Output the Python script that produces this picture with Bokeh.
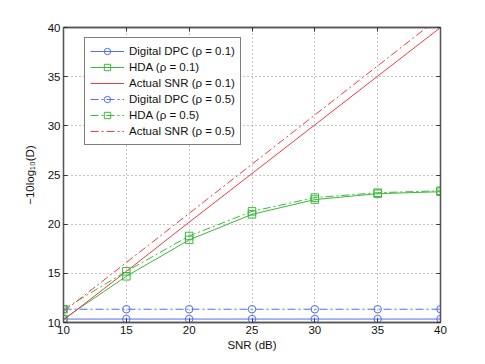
from bokeh.plotting import figure
from bokeh.models import LinearAxis, Range1d, FixedTicker, CustomJSTickFormatter
from bokeh.embed import file_html
from bokeh.resources import INLINE

# ---- data ----
snr = [10, 15, 20, 25, 30, 35, 40]
dpc_01 = [10.35, 10.35, 10.35, 10.35, 10.35, 10.35, 10.35]
hda_01 = [10.35, 14.7, 18.4, 21.0, 22.5, 23.1, 23.3]
act_01 = [10.25, 15.2, 20.2, 25.15, 30.1, 35.05, 40.0]
dpc_05 = [11.35, 11.35, 11.35, 11.35, 11.35, 11.35, 11.35]
hda_05 = [11.35, 15.2, 18.8, 21.3, 22.7, 23.2, 23.4]
act_05 = [11.1, 16.1, 21.1, 26.1, 31.1, 36.1, 41.1]
ticks = [10, 15, 20, 25, 30, 35, 40]

BLUE = "#4f6ef5"
GREEN = "#3cb83c"
RED = "#f23c3c"
FONT = "Liberation Sans"
DASHDOT = "8 3 2 3"

p = figure(width=477, height=356, output_backend="svg", toolbar_location=None,
           x_range=Range1d(10, 40), y_range=Range1d(10, 40),
           min_border_left=63, min_border_right=37, min_border_top=27, min_border_bottom=34)
p.background_fill_color = "white"
p.border_fill_color = "white"
p.outline_line_color = "#555555"
p.outline_line_width = 1.3

series = [
    (dpc_01, BLUE, "solid", "circle", "Digital DPC (ρ = 0.1)"),
    (hda_01, GREEN, "solid", "square", "HDA (ρ = 0.1)"),
    (act_01, RED, "solid", None, "Actual SNR (ρ = 0.1)"),
    (dpc_05, BLUE, DASHDOT, "circle", "Digital DPC (ρ = 0.5)"),
    (hda_05, GREEN, DASHDOT, "square", "HDA (ρ = 0.5)"),
    (act_05, RED, DASHDOT, None, "Actual SNR (ρ = 0.5)"),
]
for ys, col, dash, marker, lab in series:
    p.line(snr, ys, line_color=col, line_width=1, line_dash=dash, legend_label=lab)
    if marker:
        p.scatter(snr, ys, marker=marker, size=7.5, line_color=col, line_width=1,
                  fill_alpha=0, legend_label=lab)

for ax in p.axis:
    ax.ticker = FixedTicker(ticks=ticks)
    ax.major_tick_in = 4
    ax.major_tick_out = 0
    ax.minor_tick_in = 0
    ax.minor_tick_out = 0
    ax.axis_line_color = "#555555"
    ax.axis_line_width = 1.3
    ax.major_tick_line_color = "#333333"
    ax.major_label_text_font = FONT
    ax.major_label_text_font_size = "11.5px"
    ax.major_label_text_color = "#111111"
    ax.major_label_standoff = 3
    ax.axis_label_text_font = FONT
    ax.axis_label_text_font_size = "11.5px"
    ax.axis_label_text_font_style = "normal"
    ax.axis_label_text_color = "#111111"

p.xaxis.axis_label = "SNR (dB)"
p.xaxis.axis_label_standoff = 2
p.yaxis.axis_label = "−10log₁₀(D)"
p.yaxis.axis_label_standoff = 9

for loc in ("right", "above"):
    ax = LinearAxis(ticker=FixedTicker(ticks=ticks),
                    formatter=CustomJSTickFormatter(code="return ''"))
    ax.major_tick_in = 4
    ax.major_tick_out = 0
    ax.minor_tick_in = 0
    ax.minor_tick_out = 0
    ax.axis_line_color = "#555555"
    ax.axis_line_width = 1.3
    ax.major_tick_line_color = "#333333"
    ax.major_label_text_font_size = "1px"
    ax.major_label_standoff = 0
    p.add_layout(ax, loc)

p.grid.ticker = FixedTicker(ticks=ticks)
p.grid.grid_line_color = "#8a8a8a"
p.grid.grid_line_dash = "1 3"
p.grid.grid_line_width = 1

lg = p.legend[0]
lg.location = (21, 177)
lg.border_line_color = "black"
lg.border_line_width = 1
lg.background_fill_color = "white"
lg.background_fill_alpha = 1
lg.label_text_font = FONT
lg.label_text_font_size = "11.5px"
lg.label_text_color = "#111111"
lg.glyph_width = 34
lg.glyph_height = 16
lg.label_height = 16
lg.label_standoff = 5
lg.spacing = 0
lg.padding = 5
lg.margin = 0

open("out.html", "w").write(file_html(p, INLINE))
